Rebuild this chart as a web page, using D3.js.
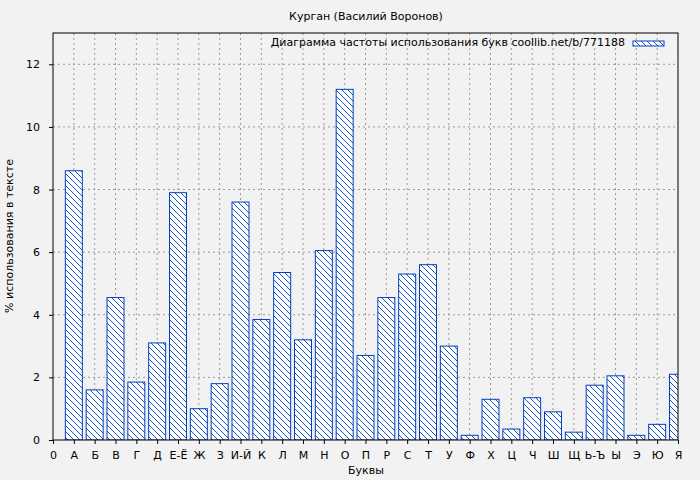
<!DOCTYPE html>
<html><head><meta charset="utf-8">
<script src="https://cdn.jsdelivr.net/npm/d3@7"></script>
<style>body{margin:0;background:#f2f2f2}svg{font-family:"DejaVu Sans",sans-serif}</style>
</head><body><svg id="c" width="700" height="480"></svg>
<script>
const letters=["А","Б","В","Г","Д","Е-Ё","Ж","З","И-Й","К","Л","М","Н","О","П","Р","С","Т","У","Ф","Х","Ц","Ч","Ш","Щ","Ь-Ъ","Ы","Э","Ю","Я"];
const values=[8.6,1.6,4.55,1.85,3.1,7.9,1.0,1.8,7.6,3.85,5.35,3.2,6.05,11.2,2.7,4.55,5.3,5.6,3.0,0.15,1.3,0.35,1.35,0.9,0.25,1.75,2.05,0.15,0.5,2.1];
const yTicks=[0,2,4,6,8,10,12];
const title="Курган (Василий Воронов)";
const legendText="Диаграмма частоты использования букв coollib.net/b/771188";
const L=53,R=678,T=33,B=440;
const svg=d3.select("#c");
const x=d3.scaleLinear().domain([0,30]).range([L,R]);
const y=d3.scaleLinear().domain([0,13]).range([B,T]);
const defs=svg.append("defs");
const p=defs.append("pattern").attr("id","h").attr("patternUnits","userSpaceOnUse").attr("width",6).attr("height",6);
p.append("rect").attr("width",6).attr("height",6).attr("fill","#fff");
p.append("path").attr("d","M-1,-1L7,7M-1,5L1,7M5,-1L7,1").attr("stroke","#0040c0").attr("stroke-width",0.9);
defs.append("clipPath").attr("id","cp").append("rect").attr("x",L).attr("y",T).attr("width",R-L).attr("height",B-T);
const g=svg.append("g");
g.selectAll(".gy").data(yTicks.filter(d=>d>0)).join("line").attr("x1",L).attr("x2",R).attr("y1",d=>y(d)).attr("y2",d=>y(d)).attr("stroke","#999").attr("stroke-dasharray","2,3");
g.selectAll(".gx").data(d3.range(1,30)).join("line").attr("y1",T).attr("y2",B).attr("x1",d=>x(d)).attr("x2",d=>x(d)).attr("stroke","#999").attr("stroke-dasharray","2,3");
svg.append("g").attr("clip-path","url(#cp)").selectAll("rect").data(values).join("rect")
 .attr("x",(d,i)=>x(i+1)-8.5).attr("width",17).attr("y",d=>y(d)).attr("height",d=>B-y(d))
 .attr("fill","url(#h)").attr("stroke","#0040c0").attr("stroke-width",1);
svg.append("rect").attr("x",L).attr("y",T).attr("width",R-L).attr("height",B-T).attr("fill","none").attr("stroke","#000");
const xa=svg.append("g").attr("transform",`translate(0,${B})`).call(d3.axisBottom(x).tickValues(d3.range(0,31)).tickSize(4).tickFormat(i=>i===0?"0":letters[i-1]));
const ya=svg.append("g").attr("transform",`translate(${L},0)`).call(d3.axisLeft(y).tickValues(yTicks).tickSize(4));
[xa,ya].forEach(a=>{a.select(".domain").remove();a.selectAll("text").attr("font-size",11).attr("fill","#000").attr("font-family","DejaVu Sans");});
xa.selectAll("text").attr("dy","1.1em");
ya.selectAll("text").attr("dx","-6");
svg.append("text").attr("x",366).attr("y",20).attr("text-anchor","middle").attr("font-size",11).text(title);
svg.append("text").attr("x",366).attr("y",474).attr("text-anchor","middle").attr("font-size",11).text("Буквы");
svg.append("text").attr("transform","translate(13,236) rotate(-90)").attr("text-anchor","middle").attr("font-size",11).text("% использования в тексте");
svg.append("text").attr("x",625).attr("y",46).attr("text-anchor","end").attr("font-size",11).text(legendText);
svg.append("rect").attr("x",633).attr("y",41).attr("width",31).attr("height",5).attr("fill","url(#h)").attr("stroke","#0040c0");
</script></body></html>
